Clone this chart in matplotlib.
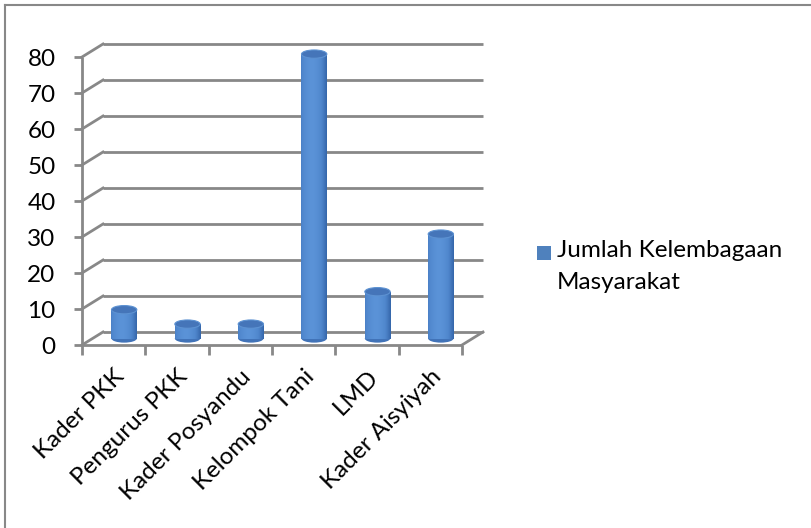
import numpy as np
import matplotlib
matplotlib.use("Agg")
import matplotlib.pyplot as plt
from matplotlib.patches import Ellipse, Rectangle
from matplotlib.transforms import ScaledTranslation
from matplotlib.lines import Line2D

categories = ["Kader PKK", "Pengurus PKK", "Kader Posyandu",
              "Kelompok Tani", "LMD", "Kader Aisyiyah"]
values = [8, 4, 4, 79, 13, 29]
y_ticks = [0, 10, 20, 30, 40, 50, 60, 70, 80]
series_name = "Jumlah Kelembagaan\nMasyarakat"

plt.rcParams["font.family"] = ["Lato", "DejaVu Sans"]

W, H, DPI = 812, 528, 100
fig = plt.figure(figsize=(W / DPI, H / DPI), dpi=DPI)
GRID = "#888888"
FS = 17.5

# front plane of the 3d box, in pixels
x0, x1, y0, y1 = 82, 462, 345, 57
ax = fig.add_axes([x0 / W, 1 - y0 / H, (x1 - x0) / W, (y0 - y1) / H])
n = len(categories)
ax.set_xlim(-0.5, n - 0.5)
ax.set_ylim(0, 80)
for s in ax.spines.values():
    s.set_visible(False)
ax.patch.set_visible(False)

# depth offset of the back wall (pixels)
dx, dy = 21, 13
back = ax.transData + ScaledTranslation(dx / DPI, dy / DPI, fig.dpi_scale_trans)
mid = ax.transData + ScaledTranslation(dx / 2 / DPI, dy / 2 / DPI, fig.dpi_scale_trans)

lw = 2.0
# back wall gridlines
for v in y_ticks:
    ax.plot([-0.5, n - 0.5], [v, v], color=GRID, lw=lw, transform=back,
            clip_on=False, solid_capstyle="butt")
# left wall diagonals, front -> back in display coords
for v in y_ticks:
    p0 = ax.transData.transform((-0.5, v))
    p1 = back.transform((-0.5, v))
    ax.add_line(Line2D([p0[0], p1[0]], [p0[1], p1[1]], color=GRID, lw=lw,
                       transform=None, clip_on=False))
# floor right diagonal
p0 = ax.transData.transform((n - 0.5, 0))
p1 = back.transform((n - 0.5, 0))
ax.add_line(Line2D([p0[0], p1[0]], [p0[1], p1[1]], color=GRID, lw=lw,
                   transform=None, clip_on=False))
# front axes
ax.plot([-0.5, n - 0.5], [0, 0], color=GRID, lw=lw, clip_on=False,
        solid_capstyle="butt")
ax.plot([-0.5, -0.5], [0, 80], color=GRID, lw=lw, clip_on=False,
        solid_capstyle="butt")

# cylinders
x = np.arange(n)
bw = 0.40
eh = 2.3  # ellipse height in data units
grad = np.linspace(0, 1, 64)
prof = 1 - (np.abs(grad - 0.42) / 0.58) ** 1.6
cmap = matplotlib.colors.LinearSegmentedColormap.from_list(
    "cyl", ["#3566aa", "#4f86cc", "#5b93d8"])
bars = ax.bar(x, values, width=bw, color="#4a7fc4", transform=mid,
              zorder=3, clip_on=False)
for b, xi, v in zip(bars, x, values):
    img = ax.imshow(prof[None, :], cmap=cmap, aspect="auto",
                    extent=[xi - bw / 2, xi + bw / 2, 0, v],
                    transform=mid, zorder=3.1, clip_on=True)
    img.set_clip_path(b)
    ax.add_patch(Ellipse((xi, 0), bw, eh, transform=mid,
                         facecolor="#4173b8", edgecolor="none", zorder=3.0,
                         clip_on=False))
    ax.add_patch(Ellipse((xi, v), bw, eh, transform=mid,
                         facecolor="#4575b9", edgecolor="#5d92d2", lw=0.8,
                         zorder=3.3, clip_on=False))
ax.set_xlim(-0.5, n - 0.5)
ax.set_ylim(0, 80)

ax.set_yticks(y_ticks)
ax.set_yticklabels([str(t) for t in y_ticks], fontsize=FS)
ax.set_xticks(np.arange(-0.5, n, 1.0))
ax.set_xticklabels([])
ax.set_xticks(x, minor=True)
ax.set_xticklabels(categories, minor=True, rotation=45, ha="right",
                   va="top", rotation_mode="anchor", fontsize=FS)
shift = ScaledTranslation(-4 / DPI, 0, fig.dpi_scale_trans)
for lab in ax.get_xticklabels(minor=True):
    lab.set_transform(lab.get_transform() + shift)
ax.tick_params(axis="y", length=6, width=lw, color=GRID, pad=13)
ax.tick_params(axis="x", which="major", length=7, width=lw, color=GRID)
ax.tick_params(axis="x", which="minor", length=0, pad=15)

# legend
fig.patches.append(Rectangle((537 / W, 1 - 260 / H), 14 / W, 14 / H,
                             transform=fig.transFigure,
                             facecolor="#4f81bd", edgecolor="none"))
fig.text(557 / W, 1 - 240 / H, series_name, fontsize=FS, ha="left",
         va="top", linespacing=1.65,
         transform=fig.transFigure)

# chart border (top and left only)
fig.add_artist(Line2D([5 / W, 1], [1 - 5 / H, 1 - 5 / H], color=GRID,
                      lw=1.5, transform=fig.transFigure))
fig.add_artist(Line2D([5 / W, 5 / W], [1 - 5 / H, 0], color=GRID,
                      lw=1.5, transform=fig.transFigure))

fig.savefig("out.png", dpi=DPI)
